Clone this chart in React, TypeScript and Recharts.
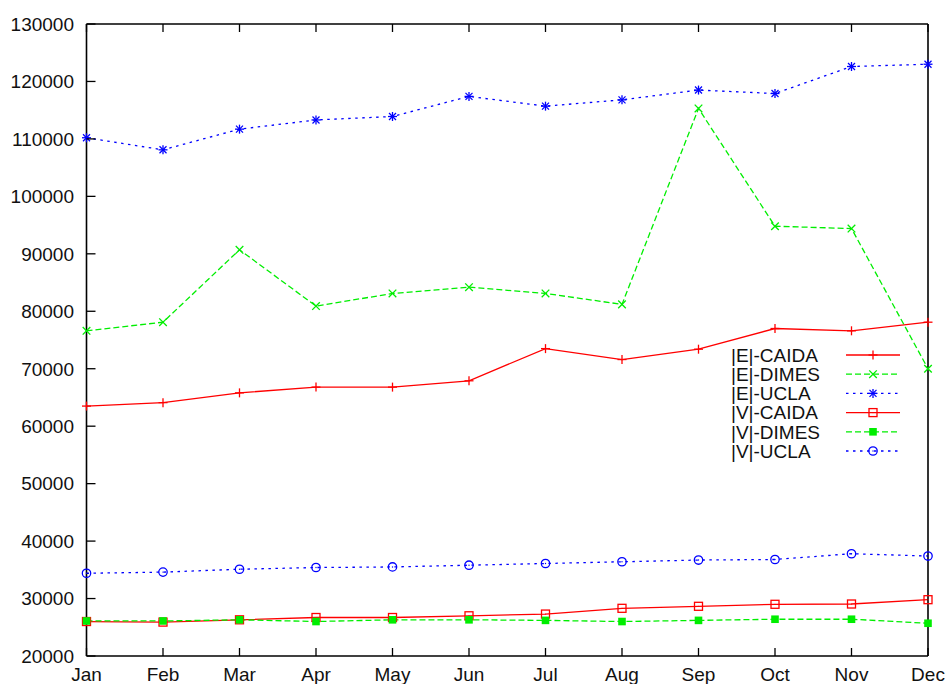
import React from 'react';
import { LineChart, Line, XAxis, YAxis, Legend } from 'recharts';

const months = ['Jan', 'Feb', 'Mar', 'Apr', 'May', 'Jun', 'Jul', 'Aug', 'Sep', 'Oct', 'Nov', 'Dec'];
const eCaida = [63500, 64100, 65800, 66800, 66800, 67900, 73500, 71600, 73400, 77000, 76600, 78100];
const eDimes = [76600, 78100, 90700, 80900, 83100, 84200, 83100, 81200, 115300, 94800, 94400, 70000];
const eUcla = [110200, 108100, 111700, 113300, 113900, 117400, 115700, 116800, 118500, 117900, 122600, 123000];
const vCaida = [26000, 25900, 26300, 26700, 26700, 27000, 27300, 28300, 28650, 29000, 29050, 29800];
const vDimes = [26100, 26100, 26300, 26000, 26300, 26300, 26200, 26000, 26200, 26400, 26400, 25700];
const vUcla = [34400, 34600, 35100, 35400, 35500, 35800, 36100, 36400, 36700, 36800, 37800, 37400];
const yTicks = [20000, 30000, 40000, 50000, 60000, 70000, 80000, 90000, 100000, 110000, 120000, 130000];

const data = months.map((m, i) => ({
  month: m,
  eCaida: eCaida[i],
  eDimes: eDimes[i],
  eUcla: eUcla[i],
  vCaida: vCaida[i],
  vDimes: vDimes[i],
  vUcla: vUcla[i],
}));

const FONT = '"Liberation Sans", Arial, Helvetica, sans-serif';
const RED = '#ff0000';
const GREEN = '#00ee00';
const BLUE = '#0000ff';

type MP = { cx: number; cy: number; color: string };

const PlusM = ({ cx, cy, color }: MP) => (
  <g stroke={color} strokeWidth={1.3} fill="none">
    <line x1={cx - 4.5} x2={cx + 4.5} y1={cy} y2={cy} />
    <line x1={cx} x2={cx} y1={cy - 4.5} y2={cy + 4.5} />
  </g>
);
const CrossM = ({ cx, cy, color }: MP) => (
  <g stroke={color} strokeWidth={1.3} fill="none">
    <line x1={cx - 3.8} x2={cx + 3.8} y1={cy - 3.8} y2={cy + 3.8} />
    <line x1={cx - 3.8} x2={cx + 3.8} y1={cy + 3.8} y2={cy - 3.8} />
  </g>
);
const StarM = ({ cx, cy, color }: MP) => (
  <g stroke={color} strokeWidth={1.3} fill="none">
    <line x1={cx - 4.5} x2={cx + 4.5} y1={cy} y2={cy} />
    <line x1={cx} x2={cx} y1={cy - 4.5} y2={cy + 4.5} />
    <line x1={cx - 3.5} x2={cx + 3.5} y1={cy - 3.5} y2={cy + 3.5} />
    <line x1={cx - 3.5} x2={cx + 3.5} y1={cy + 3.5} y2={cy - 3.5} />
  </g>
);
const OpenSquareM = ({ cx, cy, color }: MP) => (
  <g>
    <rect x={cx - 4} y={cy - 4} width={8} height={8} stroke={color} strokeWidth={1.3} fill="none" />
    <circle cx={cx} cy={cy} r={0.6} fill={color} />
  </g>
);
const FilledSquareM = ({ cx, cy, color }: MP) => (
  <rect x={cx - 3.8} y={cy - 3.8} width={7.6} height={7.6} fill={color} stroke="none" />
);
const CircleM = ({ cx, cy, color }: MP) => (
  <g>
    <circle cx={cx} cy={cy} r={4.2} stroke={color} strokeWidth={1.3} fill="none" />
    <circle cx={cx} cy={cy} r={0.7} fill={color} />
  </g>
);

const series = [
  { key: 'eCaida', name: '|E|-CAIDA', color: RED, dash: undefined as string | undefined, Marker: PlusM },
  { key: 'eDimes', name: '|E|-DIMES', color: GREEN, dash: '6 3', Marker: CrossM },
  { key: 'eUcla', name: '|E|-UCLA', color: BLUE, dash: '2.5 4.5', Marker: StarM },
  { key: 'vCaida', name: '|V|-CAIDA', color: RED, dash: undefined as string | undefined, Marker: OpenSquareM },
  { key: 'vDimes', name: '|V|-DIMES', color: GREEN, dash: '6 3', Marker: FilledSquareM },
  { key: 'vUcla', name: '|V|-UCLA', color: BLUE, dash: '2.5 4.5', Marker: CircleM },
];

const TICK_W = 1.3;

const LeftTick = (p: any) => {
  const x = Number(p.x);
  const y = Number(p.y);
  return (
    <g>
      <path d={`M${x},${y}h9`} stroke="#000" strokeWidth={TICK_W} fill="none" />
      <text x={x - 12.5} y={y + 6.8} textAnchor="end" fontSize={19} fontFamily={FONT} fill="#111">
        {p.payload.value}
      </text>
    </g>
  );
};
const RightTick = (p: any) => {
  const x = Number(p.x);
  const y = Number(p.y);
  return <path d={`M${x},${y}h-9`} stroke="#000" strokeWidth={TICK_W} fill="none" />;
};
const BottomTick = (p: any) => {
  const x = Number(p.x);
  const y = Number(p.y);
  return (
    <g>
      <path d={`M${x},${y}v-8`} stroke="#000" strokeWidth={TICK_W} fill="none" />
      <text x={x} y={y + 24.6} textAnchor="middle" fontSize={19} fontFamily={FONT} fill="#111">
        {p.payload.value}
      </text>
    </g>
  );
};
const TopTick = (p: any) => {
  const x = Number(p.x);
  const y = Number(p.y);
  return <path d={`M${x},${y}v8`} stroke="#000" strokeWidth={TICK_W} fill="none" />;
};

const LegendBox = () => (
  <svg width={180} height={122} style={{ display: 'block', overflow: 'visible' }}>
    {series.map((s, i) => {
      const cy = 10 + i * 19.2;
      const M = s.Marker;
      return (
        <g key={s.key}>
          <text x={0} y={cy + 6.8} fontSize={19} fontFamily={FONT} fill="#111">
            {s.name}
          </text>
          <line x1={115} x2={169} y1={cy} y2={cy} stroke={s.color} strokeWidth={1.3} strokeDasharray={s.dash} />
          <M cx={142} cy={cy} color={s.color} />
        </g>
      );
    })}
  </svg>
);

const axisLineStyle = { stroke: '#000', strokeWidth: 1.6 };

export default function App() {
  return (
    <div style={{ position: 'absolute', left: 0, top: 0, width: 946, height: 684, background: '#fff' }}>
      <LineChart width={946} height={684} data={data} margin={{ top: 23, right: 17, bottom: 0, left: 0 }}>
        <XAxis
          xAxisId="b"
          dataKey="month"
          type="category"
          scale="point"
          padding={{ left: 0, right: 0 }}
          height={28}
          interval={0}
          tickSize={0}
          tickMargin={0}
          tickLine={false}
          tick={BottomTick}
          axisLine={axisLineStyle}
        />
        <XAxis
          xAxisId="t"
          orientation="top"
          dataKey="month"
          type="category"
          scale="point"
          padding={{ left: 0, right: 0 }}
          height={1}
          interval={0}
          tickSize={0}
          tickMargin={0}
          tickLine={false}
          tick={TopTick}
          axisLine={axisLineStyle}
        />
        <YAxis
          yAxisId="l"
          type="number"
          domain={[20000, 130000]}
          ticks={yTicks}
          interval={0}
          width={86.5}
          tickSize={0}
          tickMargin={0}
          tickLine={false}
          tick={LeftTick}
          axisLine={axisLineStyle}
        />
        <YAxis
          yAxisId="r"
          orientation="right"
          type="number"
          domain={[20000, 130000]}
          ticks={yTicks}
          interval={0}
          width={1}
          tickSize={0}
          tickMargin={0}
          tickLine={false}
          tick={RightTick}
          axisLine={axisLineStyle}
        />
        {series.map((s) => (
          <Line
            key={s.key}
            xAxisId="b"
            yAxisId="l"
            type="linear"
            dataKey={s.key}
            name={s.name}
            stroke={s.color}
            strokeWidth={1.3}
            strokeDasharray={s.dash}
            isAnimationActive={false}
            dot={(p: any) => <s.Marker key={`${s.key}-${p.index}`} cx={p.cx} cy={p.cy} color={s.color} />}
            activeDot={false}
          />
        ))}
        <Legend
          layout="vertical"
          align="center"
          verticalAlign="middle"
          wrapperStyle={{ left: 731, top: 345, width: 180, height: 122 }}
          content={() => <LegendBox />}
        />
      </LineChart>
    </div>
  );
}
